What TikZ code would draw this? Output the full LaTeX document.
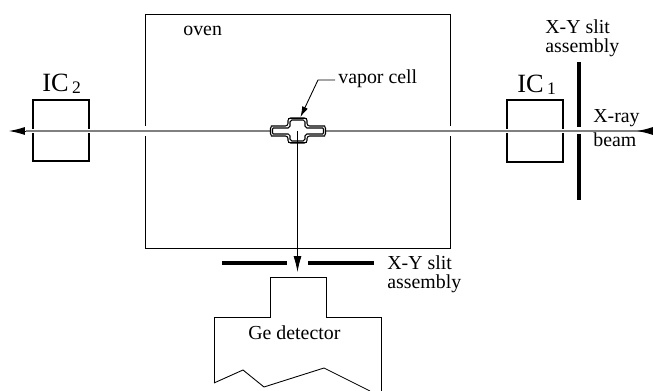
\documentclass[tikz,border=0pt]{standalone}
\usepackage{fontspec}
\setmainfont{Liberation Serif}
\usetikzlibrary{arrows.meta}
\tikzset{
  lbl/.style={anchor=west, inner sep=0pt, align=left, font=\fontsize{11.3}{10.8}\selectfont},
  thin line/.style={line width=0.5pt},
  cell line/.style={line width=0.6pt},
  box line/.style={line width=1.45pt, line join=miter},
  slit line/.style={line width=2.4pt},
  beam line/.style={line width=1pt, color=black!50},
  gap line/.style={line width=2.8pt, color=white},
  head/.style={-{Latex[length=9pt, width=4.5pt]}, line width=0.5pt}
}
\newcommand{\icname}[1]{{\fontsize{15}{15}\selectfont IC}\,{\fontsize{10}{10}\selectfont\raisebox{-1pt}{#1}}}

\begin{document}
\begin{tikzpicture}[x=0.02cm, y=-0.02cm]

\useasboundingbox (0, 0) rectangle (653, 391);

\coordinate (beamL) at (9, 131);
\coordinate (beamLh) at (26, 131);
\coordinate (beamR) at (653, 131);
\coordinate (beamRh) at (637, 131);
\coordinate (cellC) at (297.5, 131);
\coordinate (detTop) at (297.5, 272);
\coordinate (cellTop) at (300.5, 117);
\coordinate (tagBend) at (318, 80);
\coordinate (tagEnd) at (335, 80);

% oven and chambers
\draw[thin line] (145, 14) rectangle (450, 248);
\draw[box line] (33, 100) rectangle (89, 161);
\draw[box line] (507, 100) rectangle (563, 162);

% gaps where the beam goes through
\draw[gap line] (20, 131)--(110, 131);
\draw[gap line] (495, 131)--(575, 131);
\draw[line width=5.5pt, color=white] (140, 131)--(150, 131);
\draw[line width=5.5pt, color=white] (445, 131)--(455, 131);

% slits
\draw[slit line] (579, 62)--(579, 127);
\draw[slit line] (579, 134)--(579, 200);
\draw[slit line] (222, 263)--(287, 263);
\draw[slit line] (308, 263)--(374, 263);

% beam
\draw[beam line] (beamLh)--(beamR);
\draw[head] (beamLh)--(beamL);
\draw[head] (beamR)--(beamRh);

% vapor cell
\draw[cell line, fill=white, rounded corners=1.5pt]
  (288, 118)--(307, 118)--(307, 126)--(322, 126)
  to[out=0, in=90] (325.5, 131) to[out=-90, in=0] (322, 136)
  --(307, 136)--(307, 143)--(288, 143)--(288, 136)--(274, 136)
  to[out=180, in=-90] (270.5, 131) to[out=90, in=180] (274, 126)
  --(288, 126)--cycle;
\draw[cell line, rounded corners=1pt]
  (290, 120)--(305, 120)--(305, 128)--(321, 128)
  to[out=0, in=90] (323.5, 131) to[out=-90, in=0] (321, 134)
  --(305, 134)--(305, 141)--(290, 141)--(290, 134)--(275, 134)
  to[out=180, in=-90] (272.5, 131) to[out=90, in=180] (275, 128)
  --(290, 128)--cycle;
\draw[line width=1pt] (288, 118.5)--(307, 118.5);
\draw[line width=1pt] (288, 142.5)--(307, 142.5);

\draw[head] (cellC)--(detTop);
\draw[thin line, -{Latex[length=6pt, width=3.5pt]}] (tagEnd)--(tagBend)--(cellTop);

% detector
\draw[thin line] (214, 383)--(214, 317)--(270, 317)--(270, 277)--(326, 277)
  --(326, 317)--(381, 317)--(381, 391);
\draw[thin line] (214, 383)--(243, 370)--(264, 387)--(324, 368)--(370, 391);

% labels
\node[lbl] (ovenlbl) at (183, 31) {oven};
\node[lbl] (celllbl) at (338, 79) {vapor cell};
\node[lbl] (slitA) at (545, 38) {X-Y slit\\assembly};
\node[lbl] (raylbl) at (593, 118) {X-ray};
\node[lbl] (beamlbl) at (593, 140) {beam};
\node[lbl] (icone) at (517, 85) {\icname{1}};
\node[lbl] (ictwo) at (42, 84) {\icname{2}};
\node[lbl] (slitC) at (387, 274) {X-Y slit\\assembly};
\node[lbl] (gelbl) at (248, 333) {Ge detector};

\end{tikzpicture}
\end{document}
